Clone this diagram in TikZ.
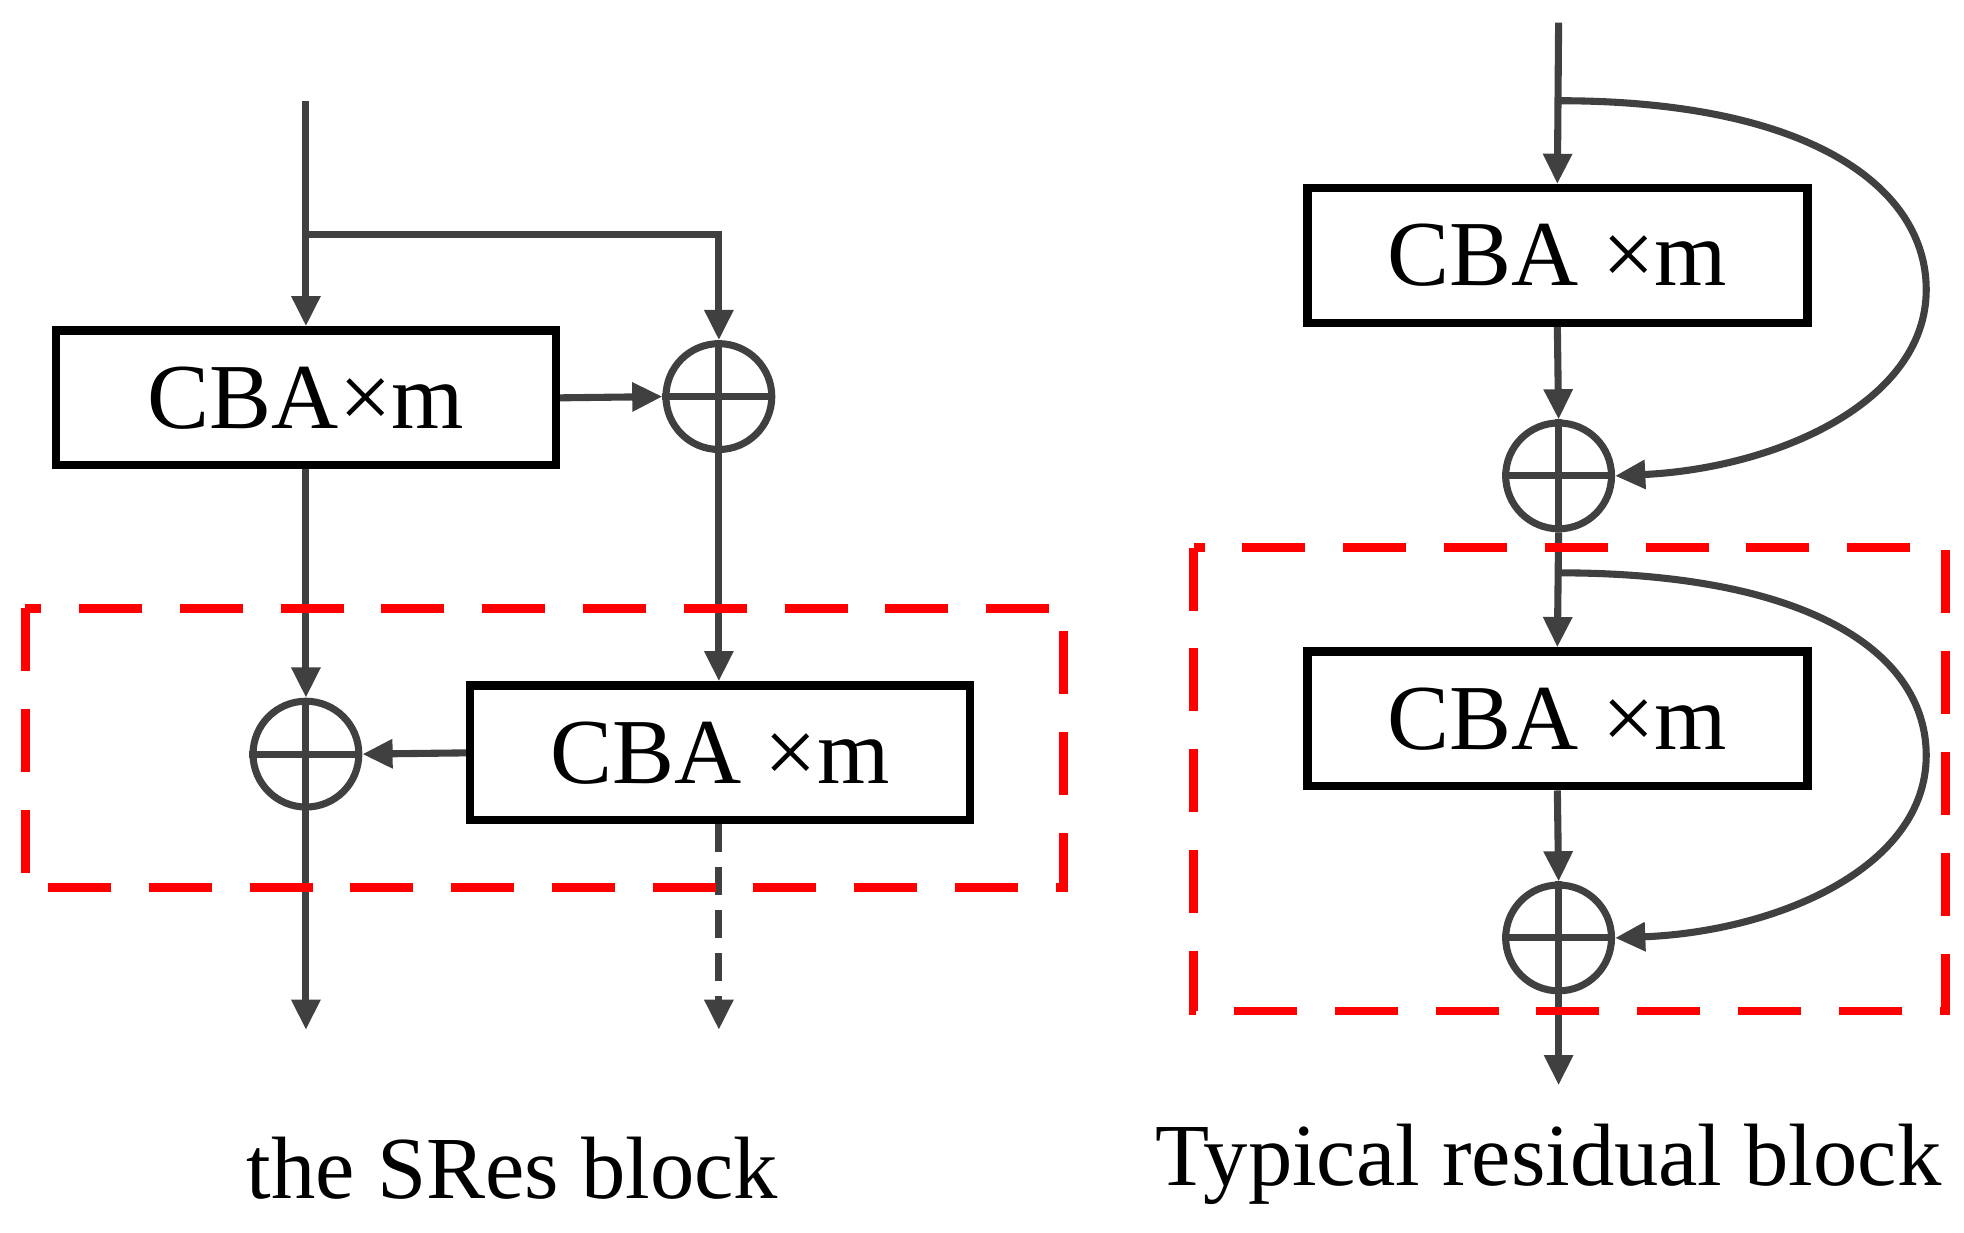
\documentclass[tikz,border=0pt]{standalone}
\usepackage{fontspec}
\setmainfont{Liberation Serif}
\usetikzlibrary{arrows.meta}
\definecolor{dk}{HTML}{404040}
\begin{document}
\begin{tikzpicture}[x=0.01cm,y=-0.01cm,
  ln/.style={draw=dk,line width=1.6pt},
  ar/.style={ln,-{Triangle[length=0.24cm,width=0.22cm]}},
  box/.style={draw=black,line width=1.9pt,minimum width=3.97cm,minimum height=1.07cm,inner sep=0pt,font=\fontsize{21}{24}\selectfont},
  sum/.style={circle,draw=dk,line width=1.6pt,minimum size=0.84cm,inner sep=0pt},
  red box/.style={draw=red,line width=2pt,dash pattern=on 0.5cm off 0.3cm},
  caption text/.style={font=\fontsize{20}{24}\selectfont}]
\useasboundingbox (0,0) rectangle (1560,979);
% plus symbols
\newcommand{\plusin}[1]{\draw[ln] (#1.north) -- (#1.south) (#1.west) -- (#1.east);}
% left: SRes block
\node[box] (b1) at (243,316) {CBA×m};
\node[sum] (s1) at (571,315) {};
\node[box] (b2) at (572,598) {CBA ×m};
\node[sum] (s2) at (243,599) {};
\plusin{s1}\plusin{s2}
\coordinate (in1) at (243,80);
\coordinate (br1) at (243,186);
\coordinate (o1) at (243,818);
\coordinate (o2) at (571,818);
\draw[ar] (in1) -- (b1.north);
\draw[ar] (br1) -| (s1.north);
\draw[ar] (b1.east) -- (s1.west);
\draw[ar] (s1.south) -- (s1.south |- b2.north);
\draw[ar] (b1.south) -- (s2.north);
\draw[ar] (b2.west) -- (s2.east);
\draw[ar] (s2.south) -- (o1);
\draw[ar,dash pattern=on 0.22cm off 0.12cm] (b2.south -| s1) -- (o2);
\draw[red box] (20,483) rectangle (845,705);
\node[caption text] (t1) at (407,928) {the SRes block};
% right: typical residual block
\node[box] (b3) at (1237,203) {CBA ×m};
\node[sum] (s3) at (1238,378) {};
\node[box] (b4) at (1237,571) {CBA ×m};
\node[sum] (s4) at (1238,745) {};
\plusin{s3}\plusin{s4}
\coordinate (in2) at (1238,18);
\coordinate (br2) at (1238,80);
\coordinate (br3) at (1238,455);
\coordinate (o3) at (1238,862);
\draw[ar] (in2) -- (b3.north);
\draw[ar] (b3.south) -- (s3.north);
\draw[ar] (s3.south) -- (b4.north);
\draw[ar] (b4.south) -- (s4.north);
\draw[ar] (s4.south) -- (o3);
\draw[ar] (br2) .. controls (1440,80) and (1530,150) .. (1530,230) .. controls (1530,320) and (1410,372) .. (s3.east);
\draw[ar] (br3) .. controls (1440,455) and (1530,520) .. (1530,600) .. controls (1530,690) and (1410,740) .. (s4.east);
\draw[red box] (948,435) rectangle (1545,803);
\node[caption text] (t2) at (1230,925) {Typical residual block};
\end{tikzpicture}
\end{document}
